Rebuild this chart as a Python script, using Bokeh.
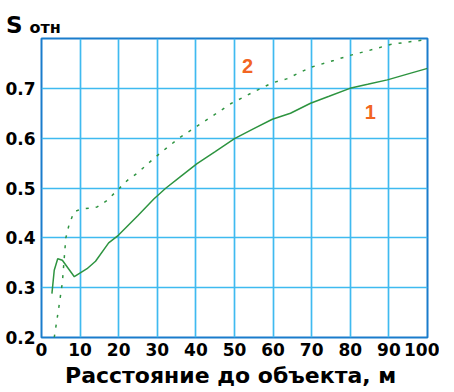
from bokeh.plotting import figure
from bokeh.models import FixedTicker, Label, Range1d, Div
from bokeh.layouts import column
from bokeh.embed import file_html
from bokeh.resources import INLINE

# Curve 1 (solid)
dist1 = [2.7, 3.3, 4.2, 5.4, 8.5, 11.8, 14.0, 17.4, 19.9, 25.0, 29.1, 32.1, 36.0, 40.3, 45.0,
         50.0, 55.0, 59.8, 64.5, 69.7, 74.5, 79.9, 84.5, 89.6, 95.0, 100.0]
s1 = [0.288, 0.335, 0.358, 0.355, 0.322, 0.338, 0.353, 0.390, 0.405, 0.445, 0.478, 0.499, 0.523, 0.549, 0.573,
      0.599, 0.619, 0.638, 0.650, 0.670, 0.684, 0.700, 0.708, 0.717, 0.729, 0.740]

# Curve 2 (dashed)
dist2 = [3.3, 4.5, 5.4, 6.3, 7.1, 8.4, 10.0, 14.4, 17.0, 19.2, 22.2, 25.0, 29.5, 33.0, 36.0, 40.3,
         45.0, 49.0, 55.0, 59.8, 63.5, 69.7, 75.7, 79.9, 84.4, 90.4, 95.0, 100.0]
s2 = [0.200, 0.261, 0.310, 0.400, 0.425, 0.452, 0.457, 0.462, 0.475, 0.492, 0.515, 0.531, 0.562, 0.584, 0.602, 0.624,
      0.648, 0.669, 0.693, 0.711, 0.719, 0.742, 0.756, 0.766, 0.775, 0.788, 0.793, 0.798]

x_ticks = [0, 10, 20, 30, 40, 50, 60, 70, 80, 90, 100]
y_ticks = [0.2, 0.3, 0.4, 0.5, 0.6, 0.7]
grid_y = [0.2, 0.3, 0.4, 0.5, 0.6, 0.7, 0.8]

FONT = "DejaVu Sans"
GREEN = "#2e9440"
GRID = "#3fbaf0"
FRAME = "#1a7ccc"
ORANGE = "#f26522"

span = "font-family:'DejaVu Sans';font-weight:bold;color:black;"
title = Div(text='<div style="line-height:34px;white-space:nowrap;">'
                 '<span style="' + span + 'font-size:23px;margin-left:6px;">S</span>'
                 '<span style="' + span + 'font-size:16px;margin-left:7px;">отн</span></div>',
            width=120, height=29, margin=(8, 0, 0, 0))

p = figure(frame_width=386, frame_height=299, output_backend="svg", toolbar_location=None,
           x_range=Range1d(0, 100), y_range=Range1d(0.2, 0.8),
           min_border_left=0, min_border_top=1, min_border_right=12, min_border_bottom=0)
p.margin = (0, 0, 0, 2)
p.background_fill_color = "white"
p.border_fill_color = "white"
p.outline_line_color = FRAME
p.outline_line_width = 2

p.xaxis.ticker = FixedTicker(ticks=x_ticks)
p.yaxis.ticker = FixedTicker(ticks=y_ticks)
p.xgrid.ticker = FixedTicker(ticks=x_ticks)
p.ygrid.ticker = FixedTicker(ticks=grid_y)
for g in (p.xgrid, p.ygrid):
    g.grid_line_color = GRID
    g.grid_line_width = 1.7
    g.grid_line_alpha = 1.0

for ax in (p.xaxis, p.yaxis):
    ax.axis_line_color = None
    ax.major_tick_line_color = None
    ax.minor_tick_line_color = None
    ax.major_tick_out = 0
    ax.major_tick_in = 0
    ax.minor_tick_out = 0
    ax.minor_tick_in = 0
    ax.major_label_text_font = FONT
    ax.major_label_text_font_style = "bold"
    ax.major_label_text_font_size = "17px"
    ax.major_label_text_color = "black"

p.xaxis.major_label_standoff = 5
p.yaxis.major_label_standoff = 6
p.xaxis.axis_label = "Расстояние  до объекта, м"
p.xaxis.axis_label_text_font = FONT
p.xaxis.axis_label_text_font_style = "bold"
p.xaxis.axis_label_text_font_size = "22px"
p.xaxis.axis_label_text_color = "black"
p.xaxis.axis_label_standoff = 4

p.line(dist1, s1, line_color=GREEN, line_width=1.5)
p.line(dist2, s2, line_color=GREEN, line_width=1.5, line_dash="3 7")

p.add_layout(Label(x=53.4, y=0.744, text="2", text_font="Liberation Sans", text_font_style="bold",
                   text_font_size="20px", text_color=ORANGE, text_align="center",
                   text_baseline="middle"))
p.add_layout(Label(x=85.2, y=0.652, text="1", text_font="Liberation Sans", text_font_style="bold",
                   text_font_size="20px", text_color=ORANGE, text_align="center",
                   text_baseline="middle"))

layout = column(title, p, spacing=0)
open("out.html", "w").write(file_html(layout, INLINE))
